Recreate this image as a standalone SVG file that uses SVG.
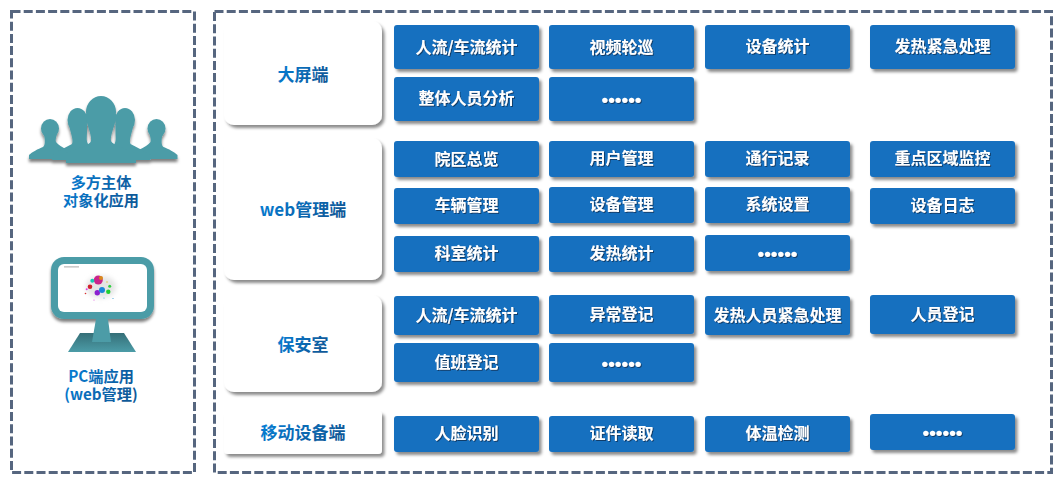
<svg xmlns="http://www.w3.org/2000/svg" width="1058" height="479" viewBox="0 0 1058 479">
<style>
.frame{fill:#fff;stroke:#56667f;stroke-width:3;stroke-dasharray:9 3.2}
.card{fill:#fff;filter:url(#sh)}
.btn{fill:#156fbf;filter:url(#sh)}
text{font-family:"Noto Sans CJK SC","Liberation Sans",sans-serif;font-weight:700;text-anchor:middle}
.bt{fill:#fff;font-size:16px;filter:url(#ts)}
.dots{font-family:"Liberation Sans",sans-serif;font-size:19px}
.lb{fill:url(#tg);font-size:17px}
.cap{fill:url(#tg);font-size:15.200px}
.teal{fill:#4c9ca7}
</style>
<defs>
<linearGradient id="tg" x1="0" y1="0" x2="1" y2="0.3"><stop offset="0" stop-color="#0580d8"/><stop offset="1" stop-color="#0e5a9a"/></linearGradient>
<linearGradient id="base" x1="0" y1="0" x2="0" y2="1"><stop offset="0" stop-color="#356f78"/><stop offset="1" stop-color="#4c9ca7"/></linearGradient>
<filter id="sh" x="-10%" y="-10%" width="125%" height="130%"><feDropShadow dx="2.500" dy="3" stdDeviation="1.600" flood-color="#000" flood-opacity="0.45"/></filter>
<filter id="ts" x="-10%" y="-20%" width="120%" height="140%"><feDropShadow dx="1" dy="1" stdDeviation="0.500" flood-color="#0a2f55" flood-opacity="0.8"/></filter>
<filter id="ic" x="-10%" y="-10%" width="125%" height="125%"><feDropShadow dx="0" dy="3" stdDeviation="1.600" flood-color="#000" flood-opacity="0.5"/></filter>
<filter id="bl" x="-30%" y="-30%" width="160%" height="160%"><feGaussianBlur stdDeviation="2.500"/></filter>
<g id="outer">
<ellipse cx="50" cy="128.500" rx="9" ry="9.500"/>
<path d="M43 131H57C57 136 55 139 56 142C58 145 62 147 68 150V159H29V155C32 152 38 149 43 147C46 145 45 137 43 131z"/>
</g>
<g id="side">
<ellipse cx="77.500" cy="120" rx="10" ry="12"/>
<path d="M69 124H87V132C87 137 86 140 88 144L94 148V160H52V155C58 151 66 147 72 144C74 140 70 132 69 124z"/>
</g>
</defs>

<rect width="1058" height="479" fill="#fff"/>

<g id="frame-left"><rect class="frame" x="11.500" y="11.500" width="183" height="461"/></g>
<g id="frame-right"><rect class="frame" x="214.500" y="11.500" width="837" height="461"/></g>

<g id="node-people">
<g class="teal" filter="url(#ic)">
<use href="#outer"/>
<use href="#outer" transform="matrix(-1 0 0 1 206.500 0)"/>
<use href="#side"/>
<use href="#side" transform="matrix(-1 0 0 1 202.500 0)"/>
<ellipse cx="101" cy="112" rx="15" ry="16"/>
<path d="M86 114H116V119C114 128 110 136 111 141C113 145 122 148 136 153V163H66V153C80 148 90 145 91 141C92 136 88 128 86 119z"/>
</g>
<text class="cap" x="101" y="188">多方主体<tspan x="101" dy="18">对象化应用</tspan></text>
</g>

<g id="node-pc">
<rect class="teal" x="51" y="257" width="103" height="62" rx="13" filter="url(#ic)"/>
<path d="M80 333h44l12 19H68z" fill="url(#base)"/>
<path class="teal" d="M96 319h12l3 23H92z"/>
<rect x="58" y="264" width="89" height="48" rx="6" fill="#fff"/>
<rect x="64" y="266.400" width="15" height="1" fill="#aaa"/>
<ellipse cx="101" cy="287" rx="15" ry="11" fill="#e4e4e4" filter="url(#bl)"/>
<circle cx="98.300" cy="280" r="4.500" fill="#c9248c"/>
<circle cx="101" cy="278" r="2" fill="#d8891c"/>
<circle cx="92.300" cy="280.700" r="2" fill="#18c8b4"/>
<circle cx="90" cy="286.700" r="2.300" fill="#d0202c"/>
<circle cx="97.300" cy="292.700" r="2.700" fill="#8a20d0"/>
<circle cx="102" cy="290" r="3" fill="#1c86d8"/>
<circle cx="108.300" cy="291.700" r="2.200" fill="#20d030"/>
<circle cx="109.700" cy="286.300" r="1.500" fill="#30d040"/>
<circle cx="86.700" cy="289.300" r="1" fill="#e040e0"/>
<circle cx="85.500" cy="293.500" r="0.800" fill="#d83030"/>
<circle cx="94" cy="300" r="0.600" fill="#e060e0"/>
<circle cx="104" cy="298" r="0.600" fill="#40c0d0"/>
<circle cx="113" cy="298.500" r="0.600" fill="#40a0d8"/>
<circle cx="107" cy="282" r="0.700" fill="#e0c030"/>
<text class="cap" x="101" y="382">PC端应用<tspan x="101" dy="18">(web管理)</tspan></text>
</g>

<g id="group-screen">
<rect class="card" x="224" y="21" width="158" height="104" rx="10"/>
<text class="lb" x="303" y="81">大屏端</text>
</g>
<g id="group-web">
<rect class="card" x="224" y="138" width="158" height="142" rx="10"/>
<text class="lb" x="303" y="216">web管理端</text>
</g>
<g id="group-security">
<rect class="card" x="224" y="295" width="158" height="97" rx="10"/>
<text class="lb" x="303" y="351">保安室</text>
</g>
<g id="group-mobile">
<rect class="card" x="224" y="411" width="158" height="43" rx="4"/>
<text class="lb" x="303" y="439">移动设备端</text>
</g>

<g id="n1"><rect class="btn" x="394" y="25" width="145" height="44" rx="3"/><text class="bt" x="466.500" y="53">人流/车流统计</text></g>
<g id="n2"><rect class="btn" x="549" y="25" width="145" height="44" rx="3"/><text class="bt" x="621.500" y="53">视频轮巡</text></g>
<g id="n3"><rect class="btn" x="705" y="25" width="145" height="44" rx="3"/><text class="bt" x="777.500" y="52">设备统计</text></g>
<g id="n4"><rect class="btn" x="870" y="25" width="145" height="44" rx="3"/><text class="bt" x="942.500" y="52">发热紧急处理</text></g>
<g id="n5"><rect class="btn" x="394" y="77" width="145" height="44" rx="3"/><text class="bt" x="466.500" y="104">整体人员分析</text></g>
<g id="n6"><rect class="btn" x="549" y="77" width="145" height="44" rx="3"/><text class="bt dots" x="621.500" y="106">••••••</text></g>

<g id="n7"><rect class="btn" x="394" y="141" width="145" height="36" rx="3"/><text class="bt" x="466.500" y="165">院区总览</text></g>
<g id="n8"><rect class="btn" x="549" y="141" width="145" height="36" rx="3"/><text class="bt" x="621.500" y="164">用户管理</text></g>
<g id="n9"><rect class="btn" x="705" y="141" width="145" height="36" rx="3"/><text class="bt" x="777.500" y="164">通行记录</text></g>
<g id="n10"><rect class="btn" x="870" y="141" width="145" height="36" rx="3"/><text class="bt" x="942.500" y="164">重点区域监控</text></g>
<g id="n11"><rect class="btn" x="394" y="188" width="145" height="36" rx="3"/><text class="bt" x="466.500" y="211">车辆管理</text></g>
<g id="n12"><rect class="btn" x="549" y="187" width="145" height="36" rx="3"/><text class="bt" x="621.500" y="210">设备管理</text></g>
<g id="n13"><rect class="btn" x="705" y="187" width="145" height="36" rx="3"/><text class="bt" x="777.500" y="210">系统设置</text></g>
<g id="n14"><rect class="btn" x="870" y="188" width="145" height="36" rx="3"/><text class="bt" x="942.500" y="211">设备日志</text></g>
<g id="n15"><rect class="btn" x="394" y="236" width="145" height="36" rx="3"/><text class="bt" x="466.500" y="259">科室统计</text></g>
<g id="n16"><rect class="btn" x="549" y="236" width="145" height="36" rx="3"/><text class="bt" x="621.500" y="259">发热统计</text></g>
<g id="n17"><rect class="btn" x="705" y="235" width="145" height="36" rx="3"/><text class="bt dots" x="777.500" y="260">••••••</text></g>

<g id="n18"><rect class="btn" x="394" y="296" width="145" height="39" rx="3"/><text class="bt" x="466.500" y="321">人流/车流统计</text></g>
<g id="n19"><rect class="btn" x="549" y="295" width="145" height="39" rx="3"/><text class="bt" x="621.500" y="320">异常登记</text></g>
<g id="n20"><rect class="btn" x="705" y="296" width="145" height="39" rx="3"/><text class="bt" x="777.500" y="321">发热人员紧急处理</text></g>
<g id="n21"><rect class="btn" x="870" y="295" width="145" height="39" rx="3"/><text class="bt" x="942.500" y="320">人员登记</text></g>
<g id="n22"><rect class="btn" x="394" y="343" width="145" height="39" rx="3"/><text class="bt" x="466.500" y="368">值班登记</text></g>
<g id="n23"><rect class="btn" x="549" y="343" width="145" height="39" rx="3"/><text class="bt dots" x="621.500" y="370">••••••</text></g>

<g id="n24"><rect class="btn" x="394" y="416" width="145" height="36" rx="3"/><text class="bt" x="466.500" y="439">人脸识别</text></g>
<g id="n25"><rect class="btn" x="549" y="416" width="145" height="36" rx="3"/><text class="bt" x="621.500" y="439">证件读取</text></g>
<g id="n26"><rect class="btn" x="705" y="416" width="145" height="36" rx="3"/><text class="bt" x="777.500" y="439">体温检测</text></g>
<g id="n27"><rect class="btn" x="870" y="414" width="145" height="36" rx="3"/><text class="bt dots" x="942.500" y="439">••••••</text></g>
</svg>
